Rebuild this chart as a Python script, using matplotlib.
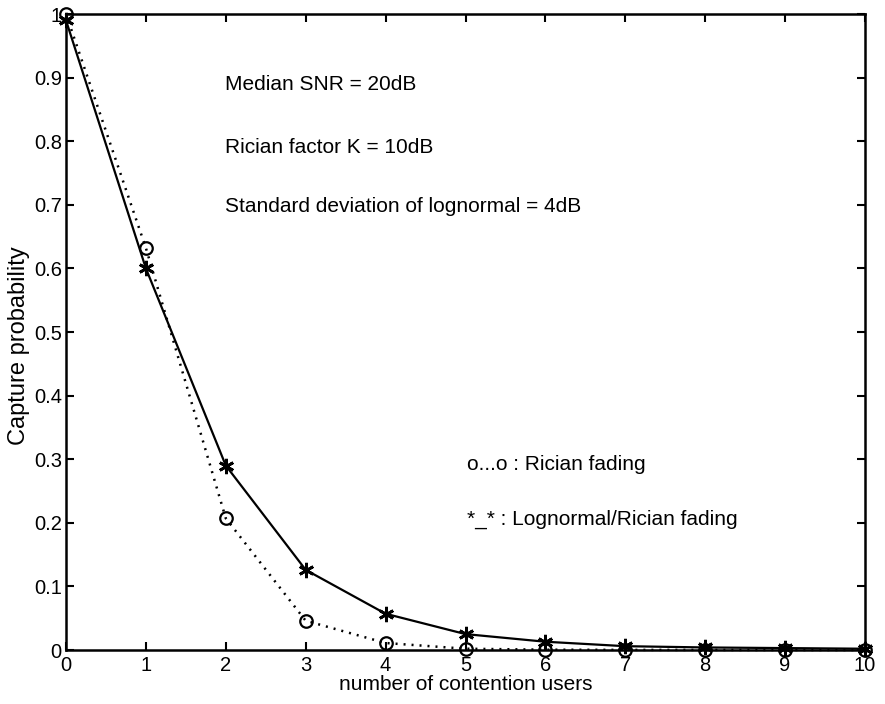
import matplotlib
matplotlib.use("Agg")
import matplotlib.pyplot as plt

users = [0, 1, 2, 3, 4, 5, 6, 7, 8, 9, 10]
rician = [1.0, 0.632, 0.207, 0.046, 0.011, 0.002, 0.0005, 0.0002, 0.0001, 0.0, 0.0]
lognormal_rician = [0.99, 0.60, 0.29, 0.126, 0.057, 0.025, 0.013, 0.006, 0.004, 0.003, 0.002]
yticks = [0, 0.1, 0.2, 0.3, 0.4, 0.5, 0.6, 0.7, 0.8, 0.9, 1]
ytick_labels = ["0", "0.1", "0.2", "0.3", "0.4", "0.5", "0.6", "0.7", "0.8", "0.9", "1"]

plt.rcParams['font.family'] = ['Liberation Sans', 'DejaVu Sans']

fig = plt.figure(figsize=(8.85, 7.04), dpi=100)
ax = fig.add_axes([66/885, 1 - 650/704, (865-66)/885, (650-14)/704])

ax.plot(users, rician, linestyle=(0, (0.8, 2.4)), color='black', linewidth=1.8,
        marker='o', markersize=9, markerfacecolor='none', markeredgecolor='black',
        markeredgewidth=1.6, clip_on=False, zorder=3)
ax.plot(users, lognormal_rician, linestyle='-', color='black', linewidth=1.6,
        marker=(6, 2, 0), markersize=11, markeredgecolor='black', markeredgewidth=2.0,
        clip_on=False, zorder=4)

ax.set_xlim(0, 10)
ax.set_ylim(0, 1)
ax.set_xticks(users)
ax.set_yticks(yticks)
ax.set_yticklabels(ytick_labels)
ax.tick_params(direction='in', top=True, right=True, length=6, width=1.5, labelsize=14.5)
ax.tick_params(axis='x', pad=4)
ax.tick_params(axis='y', pad=3)
for s in ax.spines.values():
    s.set_linewidth(1.8)

ax.set_xlabel("number of contention users", fontsize=15, labelpad=0)
ax.set_ylabel("Capture probability", fontsize=17)
ax.yaxis.set_label_coords(-36/799, 0.478)

tfs = 15
ax.text(1.99, 0.8805, "Median SNR = 20dB", fontsize=tfs, va='baseline', ha='left')
ax.text(1.99, 0.781, "Rician factor K = 10dB", fontsize=tfs, va='baseline', ha='left')
ax.text(1.99, 0.689, "Standard deviation of lognormal = 4dB", fontsize=tfs, va='baseline', ha='left')
ax.text(5.02, 0.283, "o...o : Rician fading", fontsize=tfs, va='baseline', ha='left')
ax.text(5.02, 0.1965, "*_* : Lognormal/Rician fading", fontsize=tfs, va='baseline', ha='left')

fig.savefig("out.png", dpi=100)
